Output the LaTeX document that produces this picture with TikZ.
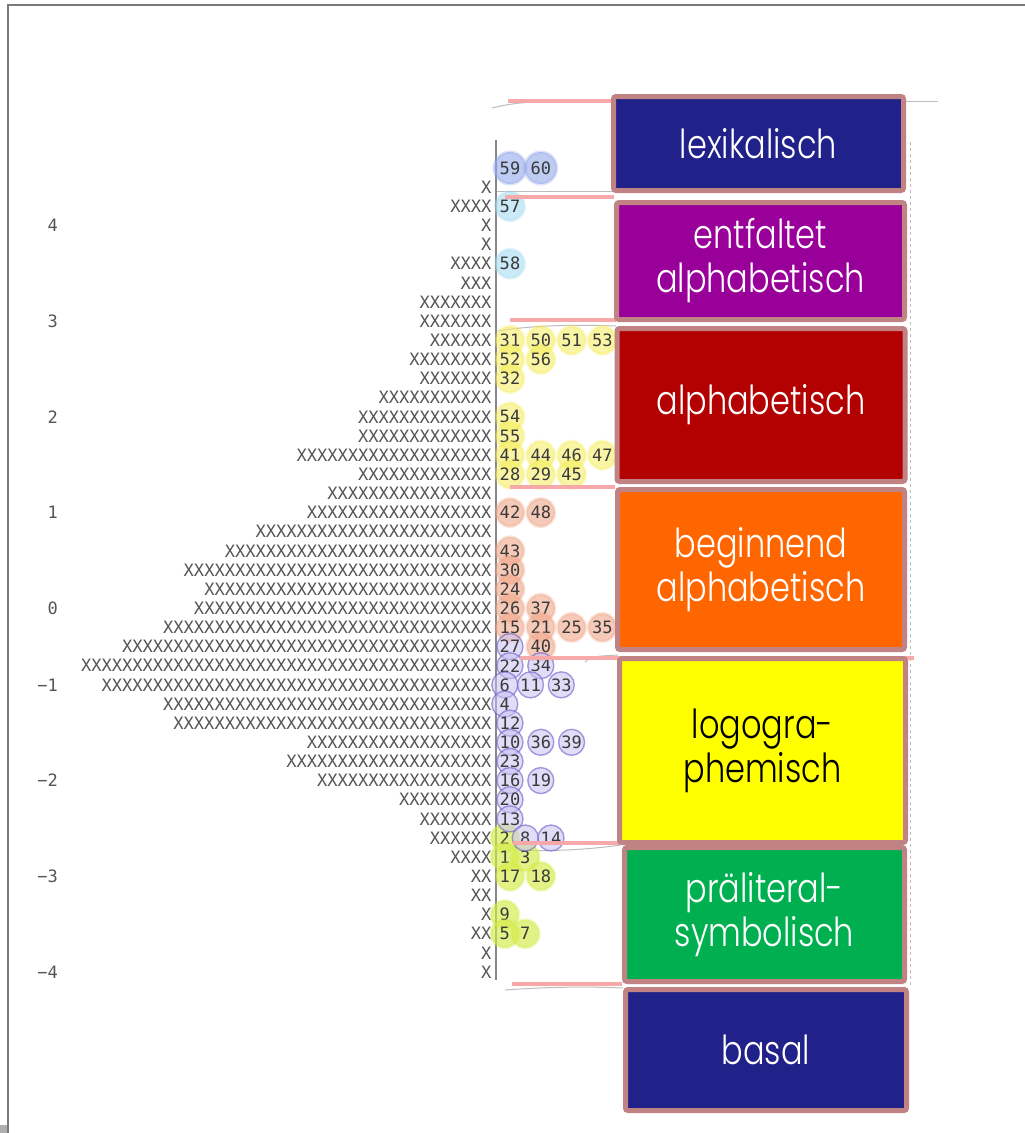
\documentclass[tikz,border=0pt]{standalone}
\usepackage{fontspec}
\usepackage{graphicx}
\newfontfamily\monof{DejaVu Sans Mono}
\newfontfamily\stagef{Poppins Light}
\ExplSyntaxOn
\cs_new:Npn \myXs #1 { \prg_replicate:nn {#1} {X} }
\ExplSyntaxOff
\newcommand\bt[1]{\scalebox{0.8}[1]{#1}}
\definecolor{xgray}{HTML}{555555}
\definecolor{itemtxt}{HTML}{3A3A3A}
\definecolor{cBlue}{HTML}{93A9EA}
\definecolor{cCyan}{HTML}{A9DDF2}
\definecolor{cYellow}{HTML}{F5EE5A}
\definecolor{cSalmon}{HTML}{F0A88A}
\definecolor{cPurpleF}{HTML}{C9C1F1}
\definecolor{cPurpleD}{HTML}{6E5FC8}
\definecolor{cLime}{HTML}{D3EC48}
\definecolor{sNavy}{HTML}{21218A}
\definecolor{sPurple}{HTML}{990099}
\definecolor{sRed}{HTML}{B30000}
\definecolor{sOrange}{HTML}{FF6600}
\definecolor{sYellow}{HTML}{FFFF00}
\definecolor{sGreen}{HTML}{00B050}
\definecolor{brd}{HTML}{C08282}
\definecolor{pinkc}{HTML}{F7A8A8}
\definecolor{faintc}{HTML}{BDBDBD}
\definecolor{framec}{HTML}{7A7A7A}
\begin{document}
\begin{tikzpicture}[x=1pt,y=-1pt,
  mono/.style={font=\monof\fontsize{17.04}{20}\selectfont, inner sep=0pt, outer sep=0pt},
  xrow/.style={mono, text=xgray, anchor=east},
  axlab/.style={mono, text=xgray, anchor=east},
  item/.style={mono, circle, minimum size=28pt, text=itemtxt, text opacity=1},
  iblue/.style={item, minimum size=32pt, fill=cBlue, fill opacity=.6, draw=cBlue, draw opacity=.3, line width=3pt},
  icyan/.style={item, minimum size=29pt, fill=cCyan, fill opacity=.6, draw=cCyan, draw opacity=.3, line width=3pt},
  iyellow/.style={item, fill=cYellow, fill opacity=.55, draw=cYellow, draw opacity=.3, line width=3pt},
  isalmon/.style={item, fill=cSalmon, fill opacity=.6, draw=cSalmon, draw opacity=.3, line width=3pt},
  ipurple/.style={item, minimum size=26pt, fill=cPurpleF, fill opacity=.55, draw=cPurpleD, draw opacity=.6, line width=1.4pt},
  ilime/.style={item, fill=cLime, fill opacity=.65, draw=cLime, draw opacity=.3, line width=3pt},
  stagebox/.style={draw=brd, line width=5pt, rounded corners=2.5pt, text=white, align=center, inner sep=0pt, font=\stagef\fontsize{40}{44}\selectfont},
  pinkline/.style={draw=pinkc, line width=4pt},
  faint/.style={draw=faintc, line width=1pt},
  axisline/.style={draw=xgray!70, line width=1.4pt},
]
\useasboundingbox (0,0) rectangle (1025,1133);
\fill[white] (0,0) rectangle (1025,1133);

% frame of the screenshot
\draw[framec, line width=2pt] (8,1133) -- (8,5) -- (1025,5);
\fill[framec!60] (0,1125) rectangle (7,1133);

% faint hand-drawn guide lines
\draw[faint] (492,108) .. controls (530,98) and (580,102) .. (612,100);
\draw[faint] (906,101) -- (938,101);
\draw[faint] (497,191) -- (612,191);
\draw[faint] (498,331) .. controls (540,324) and (590,325) .. (616,326);
\draw[faint] (585,662) .. controls (592,655) and (605,656) .. (618,655);
\draw[faint] (520,850) .. controls (560,852) and (600,848) .. (621,845);
\draw[faint] (505,990) .. controls (560,986) and (600,987) .. (623,988);
\draw[faint, dashed] (910,142) -- (910,985);

% axis
\draw[axisline] (496,140) -- (496,980);

% persons (X rows)
\foreach \r/\n in {1/1,2/4,3/1,4/1,5/4,6/3,7/7,8/7,9/6,10/8,11/7,12/11,13/13,14/13,15/19,16/13,17/16,18/18,19/23,20/26,21/30,22/28,23/29,24/32,25/36,26/40,27/38,28/32,29/31,30/18,31/20,32/17,33/9,34/7,35/6,36/4,37/2,38/2,39/1,40/2,41/1,42/1}
  \node[xrow] (xr\r) at (491.5,{168+19.143*\r}) {\myXs{\n}};

% scale labels
\foreach \r/\t in {3/4,8/3,13/2,18/1,23/0,27/−1,32/−2,37/−3,42/−4}
  \node[axlab] (lab\r) at (58,{168+19.143*\r}) {\t};

% items
\foreach \l/\cx/\r in {59/510/0,60/540.8/0}
  \node[iblue] (it\l) at (\cx,{168+19.143*\r}) {\l};
\foreach \l/\cx/\r in {57/510/2,58/510/5}
  \node[icyan] (it\l) at (\cx,{168+19.143*\r}) {\l};
\foreach \l/\cx/\r in {31/510/9,50/540.8/9,51/571.6/9,53/602.4/9,52/510/10,56/540.8/10,32/510/11,54/510/13,55/510/14,41/510/15,44/540.8/15,46/571.6/15,47/602.4/15,28/510/16,29/540.8/16,45/571.6/16}
  \node[iyellow] (it\l) at (\cx,{168+19.143*\r}) {\l};
\foreach \l/\cx/\r in {42/510/18,48/540.8/18,43/510/20,30/510/21,24/510/22,26/510/23,37/540.8/23,15/510/24,21/540.8/24,25/571.6/24,35/602.4/24,40/540.8/25}
  \node[isalmon] (it\l) at (\cx,{168+19.143*\r}) {\l};
\foreach \l/\cx/\r in {2/504.8/35,1/504.8/36,3/525.3/36,17/510/37,18/540.8/37,9/504.8/39,5/504.8/40,7/525.3/40}
  \node[ilime] (it\l) at (\cx,{168+19.143*\r}) {\l};
\foreach \l/\cx/\r in {27/510/25,22/510/26,34/540.8/26,6/504.8/27,11/530.5/27,33/561.3/27,4/504.8/28,12/510/29,10/510/30,36/540.8/30,39/571.6/30,23/510/31,16/510/32,19/540.8/32,20/510/33,13/510/34,8/525.3/35,14/551/35}
  \node[ipurple] (it\l) at (\cx,{168+19.143*\r}) {\l};

% pink boundary lines
\draw[pinkline] (508,101) -- (613,101);
\draw[pinkline] (505,197) -- (614,197);
\draw[pinkline] (510,320) -- (616,320);
\draw[pinkline] (510,487) -- (615,487);
\draw[pinkline] (520,658) -- (914,658);
\draw[pinkline] (513,843) -- (620,843);
\draw[pinkline] (512,984) -- (622,984);

% stage boxes
\node[stagebox, fill=sNavy, minimum width=290pt, minimum height=94pt] (lex) at (758.5,143.5) {\bt{lexikalisch}};
\node[stagebox, fill=sPurple, minimum width=288pt, minimum height=117pt] (ent) at (760.5,261) {\bt{entfaltet}\\\bt{alphabetisch}};
\node[stagebox, fill=sRed, minimum width=288pt, minimum height=153pt] (alph) at (761,405) {\bt{alphabetisch}};
\node[stagebox, fill=sOrange, minimum width=287pt, minimum height=160pt] (beg) at (761,569.5) {\bt{beginnend}\\\bt{alphabetisch}};
\node[stagebox, fill=sYellow, text=black, minimum width=286pt, minimum height=184pt] (logo) at (762.5,750.5) {\bt{logogra-}\\\bt{phemisch}};
\node[stagebox, fill=sGreen, minimum width=280pt, minimum height=134pt] (prae) at (764.5,914.5) {\bt{präliteral-}\\\bt{symbolisch}};
\node[stagebox, fill=sNavy, minimum width=281pt, minimum height=121pt] (basal) at (766,1050) {\bt{basal}};
\end{tikzpicture}
\end{document}
